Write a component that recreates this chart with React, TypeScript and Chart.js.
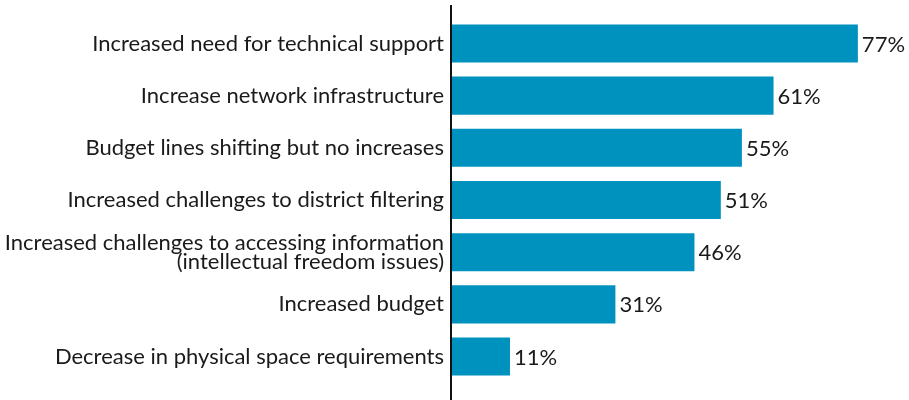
import React, { useEffect, useRef } from "react";
import { Chart, registerables } from "chart.js";

Chart.register(...registerables);

const categories: (string | string[])[] = [
  "Increased need for technical support",
  "Increase network infrastructure",
  "Budget lines shifting but no increases",
  "Increased challenges to district filtering",
  ["Increased challenges to accessing information", "(intellectual freedom issues)"],
  "Increased budget",
  "Decrease in physical space requirements",
];
const values: number[] = [77, 61, 55, 51, 46, 31, 11];
const valueLabels: string[] = ["77%", "61%", "55%", "51%", "46%", "31%", "11%"];

const FONT = "Lato, 'Open Sans', sans-serif";

export default function App() {
  const ref = useRef<HTMLCanvasElement>(null);
  useEffect(() => {
    if (!ref.current) return;
    const labelPlugin = {
      id: "valueLabels",
      afterDatasetsDraw(chart: any) {
        const ctx = chart.ctx;
        const meta = chart.getDatasetMeta(0);
        ctx.save();
        ctx.font = `22px ${FONT}`;
        ctx.fillStyle = "#1a1a1a";
        ctx.textAlign = "left";
        ctx.textBaseline = "middle";
        meta.data.forEach((bar: any, i: number) => {
          ctx.fillText(valueLabels[i], bar.x + 4, bar.y + 1);
        });
        ctx.restore();
      },
      afterDraw(chart: any) {
        const ctx = chart.ctx;
        const x = chart.chartArea.left;
        ctx.save();
        ctx.strokeStyle = "#111";
        ctx.lineWidth = 2;
        ctx.beginPath();
        ctx.moveTo(x - 1, 5);
        ctx.lineTo(x - 1, chart.height);
        ctx.stroke();
        ctx.restore();
      },
    };
    const chart = new Chart(ref.current, {
      type: "bar",
      data: {
        labels: categories,
        datasets: [
          {
            data: values,
            backgroundColor: "#0092BF",
            borderWidth: 0,
            categoryPercentage: 1,
            barPercentage: 0.73,
          },
        ],
      },
      options: {
        indexAxis: "y",
        animation: false,
        responsive: false,
        maintainAspectRatio: false,
        layout: { padding: { top: 15.6, bottom: 10.8, left: 0, right: 0 } },
        plugins: { legend: { display: false }, tooltip: { enabled: false } },
        scales: {
          x: { display: false, min: 0, max: 86.7 },
          y: {
            grid: { display: false, drawTicks: false },
            border: { display: false },
            afterFit(scale: any) {
              scale.width = 452;
            },
            ticks: {
              padding: 8,
              color: "#1a1a1a",
              font: { family: FONT, size: 22, lineHeight: 0.85 },
            },
          },
        },
      },
      plugins: [labelPlugin],
    });
    return () => chart.destroy();
  }, []);
  return (
    <div style={{ position: "fixed", left: 0, top: 0, width: 909, height: 400, background: "#fff" }}>
      <canvas ref={ref} width={909} height={400} style={{ width: 909, height: 400 }} />
    </div>
  );
}
